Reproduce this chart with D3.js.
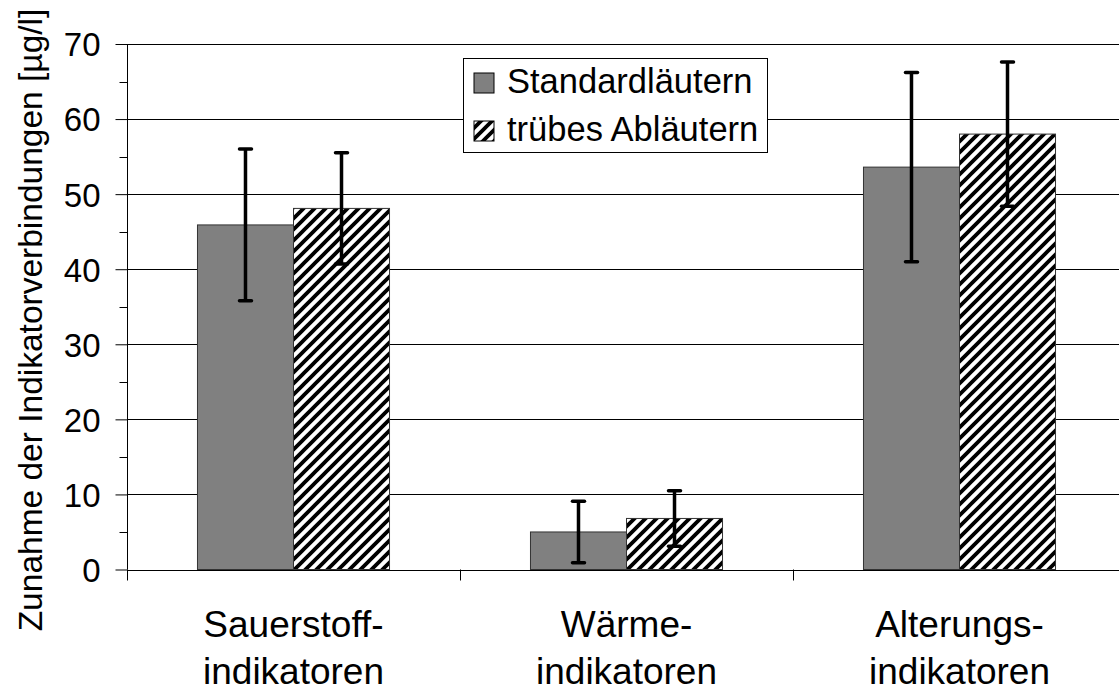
<!DOCTYPE html>
<html>
<head>
<meta charset="utf-8">
<script src="https://cdn.jsdelivr.net/npm/d3@7"></script>
<style>
  body { margin: 0; background: #fff; }
  text { font-family: "Liberation Sans", Arial, sans-serif; fill: #000; }
</style>
</head>
<body>
<script>
// chart data
var categories = ["Sauerstoff-\nindikatoren", "Wärme-\nindikatoren", "Alterungs-\nindikatoren"];
var seriesNames = ["Standardläutern", "trübes Abläutern"];
var standardValues = [45.9, 5.0, 53.6];
var standardErrors = [10.1, 4.1, 12.6];
var truebValues = [48.1, 6.8, 58.0];
var truebErrors = [7.4, 3.7, 9.6];
var yTicks = [0, 10, 20, 30, 40, 50, 60, 70];
var yLabel = "Zunahme der Indikatorverbindungen [µg/l]";

var width = 1119,
	height = 693;

var svg = d3.select("body").append("svg")
	.attr("width", width)
	.attr("height", height);

// hatch pattern
var defs = svg.append("defs");
var pat = defs.append("pattern")
	.attr("id", "hatch")
	.attr("patternUnits", "userSpaceOnUse")
	.attr("width", 11)
	.attr("height", 11);
pat.append("rect").attr("width", 11).attr("height", 11).attr("fill", "#fff");
pat.append("path")
	.attr("d", "M-3,3 l6,-6 M0,11 l11,-11 M8,14 l6,-6")
	.attr("stroke", "#000")
	.attr("stroke-width", 3.8);

var data = categories.map(function(c, i){
	return {
		cat: c,
		vals: [
			{s: seriesNames[0], v: standardValues[i], e: standardErrors[i]},
			{s: seriesNames[1], v: truebValues[i], e: truebErrors[i]}
		]
	};
});

var x0 = d3.scaleBand()
	.domain(categories)
	.range([127, 1126])
	.padding(0);

var x1 = d3.scaleBand()
	.domain(seriesNames)
	.range([0, x0.bandwidth()])
	.paddingInner(0)
	.paddingOuter(0.734);

var y = d3.scaleLinear()
	.domain([0, 70])
	.range([569.5, 44]);

var fills = {};
fills[seriesNames[0]] = "#808080";
fills[seriesNames[1]] = "url(#hatch)";

// gridlines
svg.selectAll(".grid")
	.data(yTicks.slice(1))
	.enter()
	.append("line")
		.attr("class", "grid")
		.attr("x1", 127)
		.attr("x2", width)
		.attr("y1", function(d){ return Math.round(y(d)) + 0.5; })
		.attr("y2", function(d){ return Math.round(y(d)) + 0.5; })
		.attr("stroke", "#000")
		.attr("stroke-width", 1);

// y axis
var yAxis = d3.axisLeft(y)
	.tickValues(yTicks)
	.tickSize(12)
	.tickPadding(15)
	.tickFormat(d3.format("d"));

var gy = svg.append("g")
	.attr("transform", "translate(127.5,0)")
	.call(yAxis);
gy.select(".domain").attr("stroke", "#000").attr("d", "M0," + y(70) + "V" + y(0));
gy.selectAll(".tick line").attr("stroke", "#000");
gy.selectAll(".tick text")
	.style("font-size", "33px")
	.attr("dy", "0.36em");

// minor ticks
gy.selectAll(".minor")
	.data([5, 15, 25, 35, 45, 55, 65])
	.enter()
	.append("line")
		.attr("class", "minor")
		.attr("x1", -8)
		.attr("x2", 0)
		.attr("y1", function(d){ return Math.round(y(d)) + 0.5; })
		.attr("y2", function(d){ return Math.round(y(d)) + 0.5; })
		.attr("stroke", "#000");

// bars
var groups = svg.selectAll(".cat")
	.data(data)
	.enter()
	.append("g")
		.attr("class", "cat")
		.attr("transform", function(d){ return "translate(" + x0(d.cat) + ",0)"; });

groups.selectAll("rect")
	.data(function(d){ return d.vals; })
	.enter()
	.append("rect")
		.attr("x", function(d){ return x1(d.s); })
		.attr("y", function(d){ return y(d.v); })
		.attr("width", x1.bandwidth())
		.attr("height", function(d){ return y(0) - y(d.v); })
		.attr("fill", function(d){ return fills[d.s]; })
		.attr("stroke", "#333")
		.attr("stroke-width", 1);

// error bars
var err = groups.selectAll(".err")
	.data(function(d){ return d.vals; })
	.enter()
	.append("g")
		.attr("class", "err")
		.attr("transform", function(d){ return "translate(" + (x1(d.s) + x1.bandwidth() / 2) + ",0)"; });

err.append("line")
	.attr("x1", 0).attr("x2", 0)
	.attr("y1", function(d){ return y(d.v + d.e); })
	.attr("y2", function(d){ return y(d.v - d.e); })
	.attr("stroke", "#000")
	.attr("stroke-width", 3.5);

err.selectAll(".cap")
	.data(function(d){ return [d.v + d.e, d.v - d.e]; })
	.enter()
	.append("line")
		.attr("x1", -6).attr("x2", 6)
		.attr("y1", function(d){ return y(d); })
		.attr("y2", function(d){ return y(d); })
		.attr("stroke", "#000")
		.attr("stroke-width", 3.5)
		.attr("stroke-linecap", "round");

// x axis
var gx = svg.append("g");
gx.append("line")
	.attr("x1", 127).attr("x2", width)
	.attr("y1", Math.round(y(0)) + 0.5).attr("y2", Math.round(y(0)) + 0.5)
	.attr("stroke", "#000");
gx.selectAll(".xtick")
	.data(categories)
	.enter()
	.append("line")
		.attr("class", "xtick")
		.attr("x1", function(d){ return Math.round(x0(d)) + 0.5; })
		.attr("x2", function(d){ return Math.round(x0(d)) + 0.5; })
		.attr("y1", y(0))
		.attr("y2", y(0) + 11)
		.attr("stroke", "#000");

var labels = gx.selectAll(".xlab")
	.data(categories)
	.enter()
	.append("text")
		.attr("class", "xlab")
		.attr("text-anchor", "middle")
		.style("font-size", "37px")
		.attr("transform", function(d){ return "translate(" + (x0(d) + x0.bandwidth() / 2) + ",637)"; });
labels.selectAll("tspan")
	.data(function(d){ return d.split("\n"); })
	.enter()
	.append("tspan")
		.attr("x", 0)
		.attr("y", function(d, i){ return i * 47; })
		.text(function(d){ return d; });

// y label
svg.append("text")
	.attr("text-anchor", "middle")
	.style("font-size", "33.5px")
	.attr("transform", "translate(42,320) rotate(-90)")
	.text(yLabel);

// legend
var leg = svg.append("g").attr("transform", "translate(463,58)");
leg.append("rect")
	.attr("x", 0.5).attr("y", 0.5)
	.attr("width", 304).attr("height", 94)
	.attr("fill", "#fff")
	.attr("stroke", "#000");

var items = leg.selectAll(".item")
	.data(seriesNames)
	.enter()
	.append("g")
		.attr("class", "item")
		.attr("transform", function(d, i){ return "translate(0," + (i * 48) + ")"; });
items.append("rect")
	.attr("x", 11).attr("y", 15)
	.attr("width", 20).attr("height", 20)
	.attr("fill", function(d){ return fills[d]; })
	.attr("stroke", "#000");
items.append("text")
	.attr("x", 44).attr("y", 35)
	.style("font-size", "34.5px")
	.text(function(d){ return d; });
</script>
</body>
</html>
